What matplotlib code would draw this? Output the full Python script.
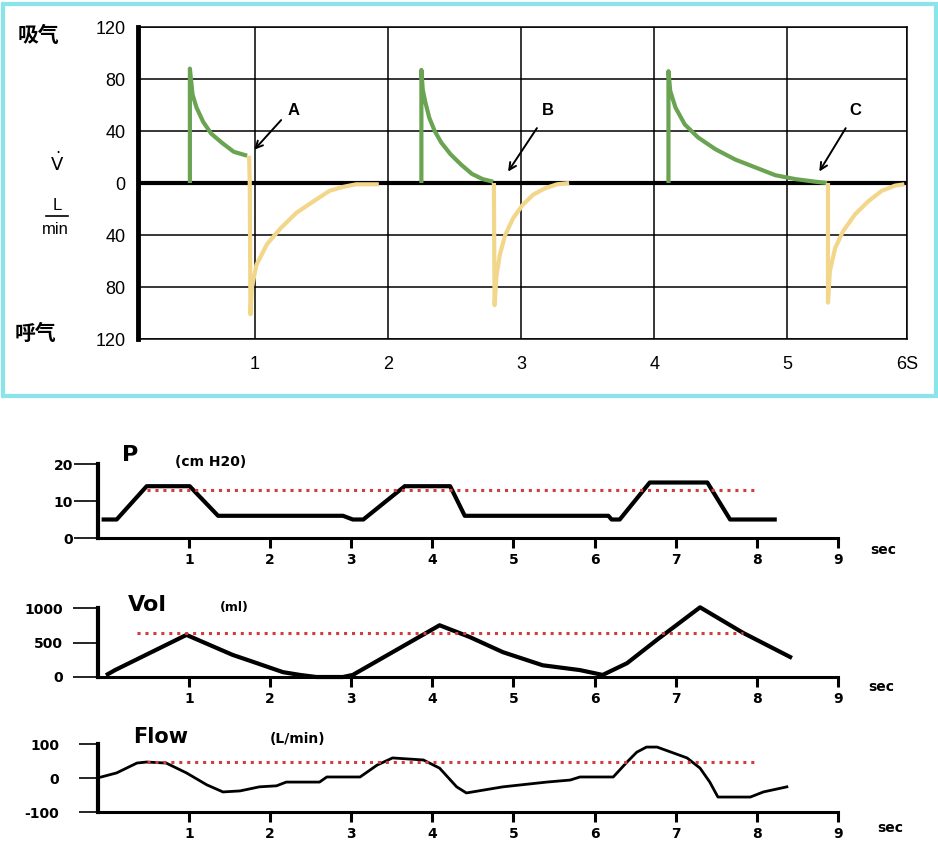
import matplotlib.pyplot as plt
from matplotlib.patches import Rectangle
from matplotlib.lines import Line2D

plt.rcParams['font.family'] = ['Liberation Sans', 'Noto Sans CJK SC', 'DejaVu Sans']

# ---- panel superior: flujo (L/min) con tres respiraciones ----
insp1_t = [0.51, 0.51, 0.53, 0.56, 0.61, 0.67, 0.75, 0.84, 0.94]
insp1_v = [0, 88, 68, 58, 47, 38, 31, 24, 21]
esp1_t = [0.955, 0.96, 0.965, 0.975, 1.01, 1.09, 1.19, 1.31, 1.44, 1.56, 1.66, 1.76, 1.93]
esp1_v = [21, 0, -101, -81, -63, -47, -35, -23, -14, -6, -3, -1, -1]

insp2_t = [2.25, 2.25, 2.26, 2.28, 2.31, 2.35, 2.40, 2.47, 2.55, 2.63, 2.71, 2.79]
insp2_v = [0, 87, 72, 62, 50, 40, 31, 22, 14, 7, 3, 1]
esp2_t = [2.795, 2.80, 2.815, 2.84, 2.88, 2.94, 3.01, 3.09, 3.18, 3.27, 3.36]
esp2_v = [0, -94, -71, -55, -40, -27, -17, -9, -4, -1, 0]

insp3_t = [4.107, 4.107, 4.12, 4.16, 4.23, 4.33, 4.46, 4.61, 4.76, 4.91, 5.06, 5.21, 5.30]
insp3_v = [0, 86, 71, 58, 45, 35, 26, 18, 12, 6, 3, 1, 0]
esp3_t = [5.306, 5.306, 5.32, 5.36, 5.42, 5.51, 5.61, 5.71, 5.81, 5.88]
esp3_v = [0, -92, -68, -50, -37, -24, -14, -6, -2, -1]

top_xticks = [1, 2, 3, 4, 5, 5.9]
top_xlabels = ['1', '2', '3', '4', '5', '6S']
top_yticks = [-120, -80, -40, 0, 40, 80, 120]
top_ylabels = ['120', '80', '40', '0', '40', '80', '120']

# etiquetas A, B, C: (texto, cola, punta)
marcas = ['A', 'B', 'C']
marca_txt = [(1.29, 56), (3.20, 56), (5.51, 56)]
marca_cola = [(1.21, 50), (3.13, 44), (5.45, 44)]
marca_punta = [(0.98, 24), (2.89, 7), (5.23, 7)]

# ---- paneles inferiores: P, Vol, Flow ----
p_t = [-0.05, 0.11, 0.48, 1.01, 1.36, 2.90, 3.02, 3.15, 3.66, 4.22, 4.40, 6.17, 6.21, 6.31, 6.68, 7.39, 7.67, 8.22]
p_v = [5, 5, 14, 14, 6, 6, 5, 5, 14, 14, 6, 6, 5, 5, 15, 15, 5, 5]

vol_t = [0.0, 0.09, 0.97, 1.54, 1.79, 2.16, 2.37, 2.57, 2.90, 3.02, 4.09, 4.46, 4.87, 5.36, 5.82, 6.10, 6.40, 6.77, 7.30, 7.83, 8.41]
vol_v = [40, 100, 610, 320, 220, 70, 30, 0, 0, 30, 750, 580, 360, 170, 100, 30, 200, 540, 1010, 640, 290]

flow_t = [-0.08, 0.11, 0.36, 0.48, 0.72, 0.97, 1.22, 1.42, 1.63, 1.87, 2.08, 2.20, 2.61, 2.70, 3.11, 3.32, 3.51,
          3.89, 4.09, 4.30, 4.42, 4.87, 5.41, 5.70, 5.82, 6.23, 6.40, 6.52, 6.64, 6.77, 7.14, 7.30, 7.42, 7.52,
          7.92, 8.08, 8.37]
flow_v = [3, 15, 44, 47, 44, 15, -20, -41, -38, -26, -23, -12, -12, 3, 3, 38, 59, 53, 29, -26, -44, -26, -12,
          -6, 3, 3, 47, 76, 91, 91, 59, 29, -12, -56, -56, -41, -26]

# lineas de referencia punteadas (nivel, inicio, fin)
p_ref = (13, 0.48, 7.98)
vol_ref = (640, 0.36, 7.83)
flow_ref = (47, 0.48, 7.98)

W, H = 938, 855
VERDE = '#6aa352'
AMARILLO = '#f2d68a'
ROJO = '#d23c3c'


def caja(l, t, r, b):
    return [l / W, 1 - b / H, (r - l) / W, (b - t) / H]


fig = plt.figure(figsize=(W / 100, H / 100), dpi=100)

# marco cian del panel superior
fig.add_artist(Rectangle((3 / W, 1 - 396 / H), 933 / W, 392 / H, transform=fig.transFigure,
                         fill=False, edgecolor='#8ae4ea', lw=3))

ax = fig.add_axes(caja(138, 27, 907, 339))
ax.set_xlim(0.12, 5.90)
ax.set_ylim(-120, 120)
ax.set_xticks(top_xticks)
ax.set_xticklabels(top_xlabels)
ax.set_yticks(top_yticks)
ax.set_yticklabels(top_ylabels)
ax.grid(True, color='black', lw=1.1)
for s in ax.spines.values():
    s.set_linewidth(1.1)
ax.spines['left'].set_linewidth(3.5)
ax.tick_params(axis='x', length=0, pad=12, labelsize=13)
ax.tick_params(axis='y', length=0, pad=9, labelsize=13)
ax.axhline(0, color='black', lw=3, zorder=2)

for t, v in [(insp1_t, insp1_v), (insp2_t, insp2_v), (insp3_t, insp3_v)]:
    ax.plot(t, v, color=VERDE, lw=3, zorder=3, solid_capstyle='butt', solid_joinstyle='round')
for t, v in [(esp1_t, esp1_v), (esp2_t, esp2_v), (esp3_t, esp3_v)]:
    ax.plot(t, v, color=AMARILLO, lw=3, zorder=3, solid_capstyle='butt', solid_joinstyle='round')

for m, txt, cola, punta in zip(marcas, marca_txt, marca_cola, marca_punta):
    ax.text(txt[0], txt[1], m, fontsize=12, weight='bold', ha='center', va='center')
    ax.annotate('', xy=punta, xytext=cola,
                arrowprops=dict(arrowstyle='->,head_length=0.5,head_width=0.25', color='black', lw=1.4))

cjk = ['Noto Sans CJK SC', 'DejaVu Sans']
fig.text(38 / W, 1 - 35 / H, '吸气', ha='center', va='center', fontsize=15, weight='bold', family=cjk)
fig.text(35 / W, 1 - 333 / H, '呼气', ha='center', va='center', fontsize=15, weight='bold', family=cjk)
fig.text(57 / W, 1 - 163 / H, r'$\dot{\mathrm{V}}$', ha='center', va='center', fontsize=13)
fig.text(57 / W, 1 - 206 / H, 'L', ha='center', va='center', fontsize=12)
fig.add_artist(Line2D([46 / W, 68 / W], [1 - 216 / H, 1 - 216 / H], color='black', lw=1.2))
fig.text(55 / W, 1 - 230 / H, 'min', ha='center', va='center', fontsize=12)


def panel_inferior(rect, ylim, yticks, ylabels, ylen, ypad):
    a = fig.add_axes(rect)
    a.set_xlim(-0.12, 9.0)
    a.set_ylim(*ylim)
    a.spines['top'].set_visible(False)
    a.spines['right'].set_visible(False)
    a.spines['left'].set_linewidth(3)
    a.spines['bottom'].set_linewidth(2.2)
    a.set_xticks(range(1, 10))
    a.set_yticks(yticks)
    a.set_yticklabels(ylabels)
    a.tick_params(axis='x', length=7, width=2.2, pad=4, labelsize=10)
    a.tick_params(axis='y', length=ylen, width=1.2, pad=ypad, labelsize=10)
    for lab in a.get_xticklabels() + a.get_yticklabels():
        lab.set_fontweight('bold')
        lab.set_family('DejaVu Sans')
    return a


bold = dict(weight='bold', family='DejaVu Sans', va='center', ha='left')

ax_p = panel_inferior(caja(98, 464, 838, 538), (0, 20), [0, 10, 20], ['0', '10', '20'], 17, 1)
ax_p.plot(p_t, p_v, color='black', lw=3, clip_on=False)
ax_p.plot(p_ref[1:], [p_ref[0], p_ref[0]], color=ROJO, lw=2.2, ls=(0, (1, 1.6)))
ax_p.text(0.17, 22.4, 'P', fontsize=16, clip_on=False, **bold)
ax_p.text(0.83, 20.5, '(cm H20)', fontsize=10, clip_on=False, **bold)
ax_p.text(9.40, -3.2, 'sec', fontsize=10, clip_on=False, **bold)

ax_v = panel_inferior(caja(98, 608, 838, 677), (0, 1000), [0, 500, 1000], ['0', '500', '1000'], 18, 7)
ax_v.plot(vol_t, vol_v, color='black', lw=3, clip_on=False)
ax_v.plot(vol_ref[1:], [vol_ref[0], vol_ref[0]], color=ROJO, lw=2.2, ls=(0, (1, 1.6)))
ax_v.text(0.25, 1043, 'Vol', fontsize=16, clip_on=False, **bold)
ax_v.text(1.38, 1014, '(ml)', fontsize=9, clip_on=False, **bold)
ax_v.text(9.37, -145, 'sec', fontsize=10, clip_on=False, **bold)

ax_f = panel_inferior(caja(98, 744, 838, 812), (-100, 100), [-100, 0, 100], ['-100', '0', '100'], 14, 14)
ax_f.plot(flow_t, flow_v, color='black', lw=2, clip_on=False)
ax_f.plot(flow_ref[1:], [flow_ref[0], flow_ref[0]], color=ROJO, lw=2.2, ls=(0, (1, 1.6)))
ax_f.text(0.31, 120, 'Flow', fontsize=15, clip_on=False, **bold)
ax_f.text(2.0, 115, '(L/min)', fontsize=10, clip_on=False, **bold)
ax_f.text(9.48, -147, 'sec', fontsize=10, clip_on=False, **bold)

fig.savefig('out.png', dpi=100)
